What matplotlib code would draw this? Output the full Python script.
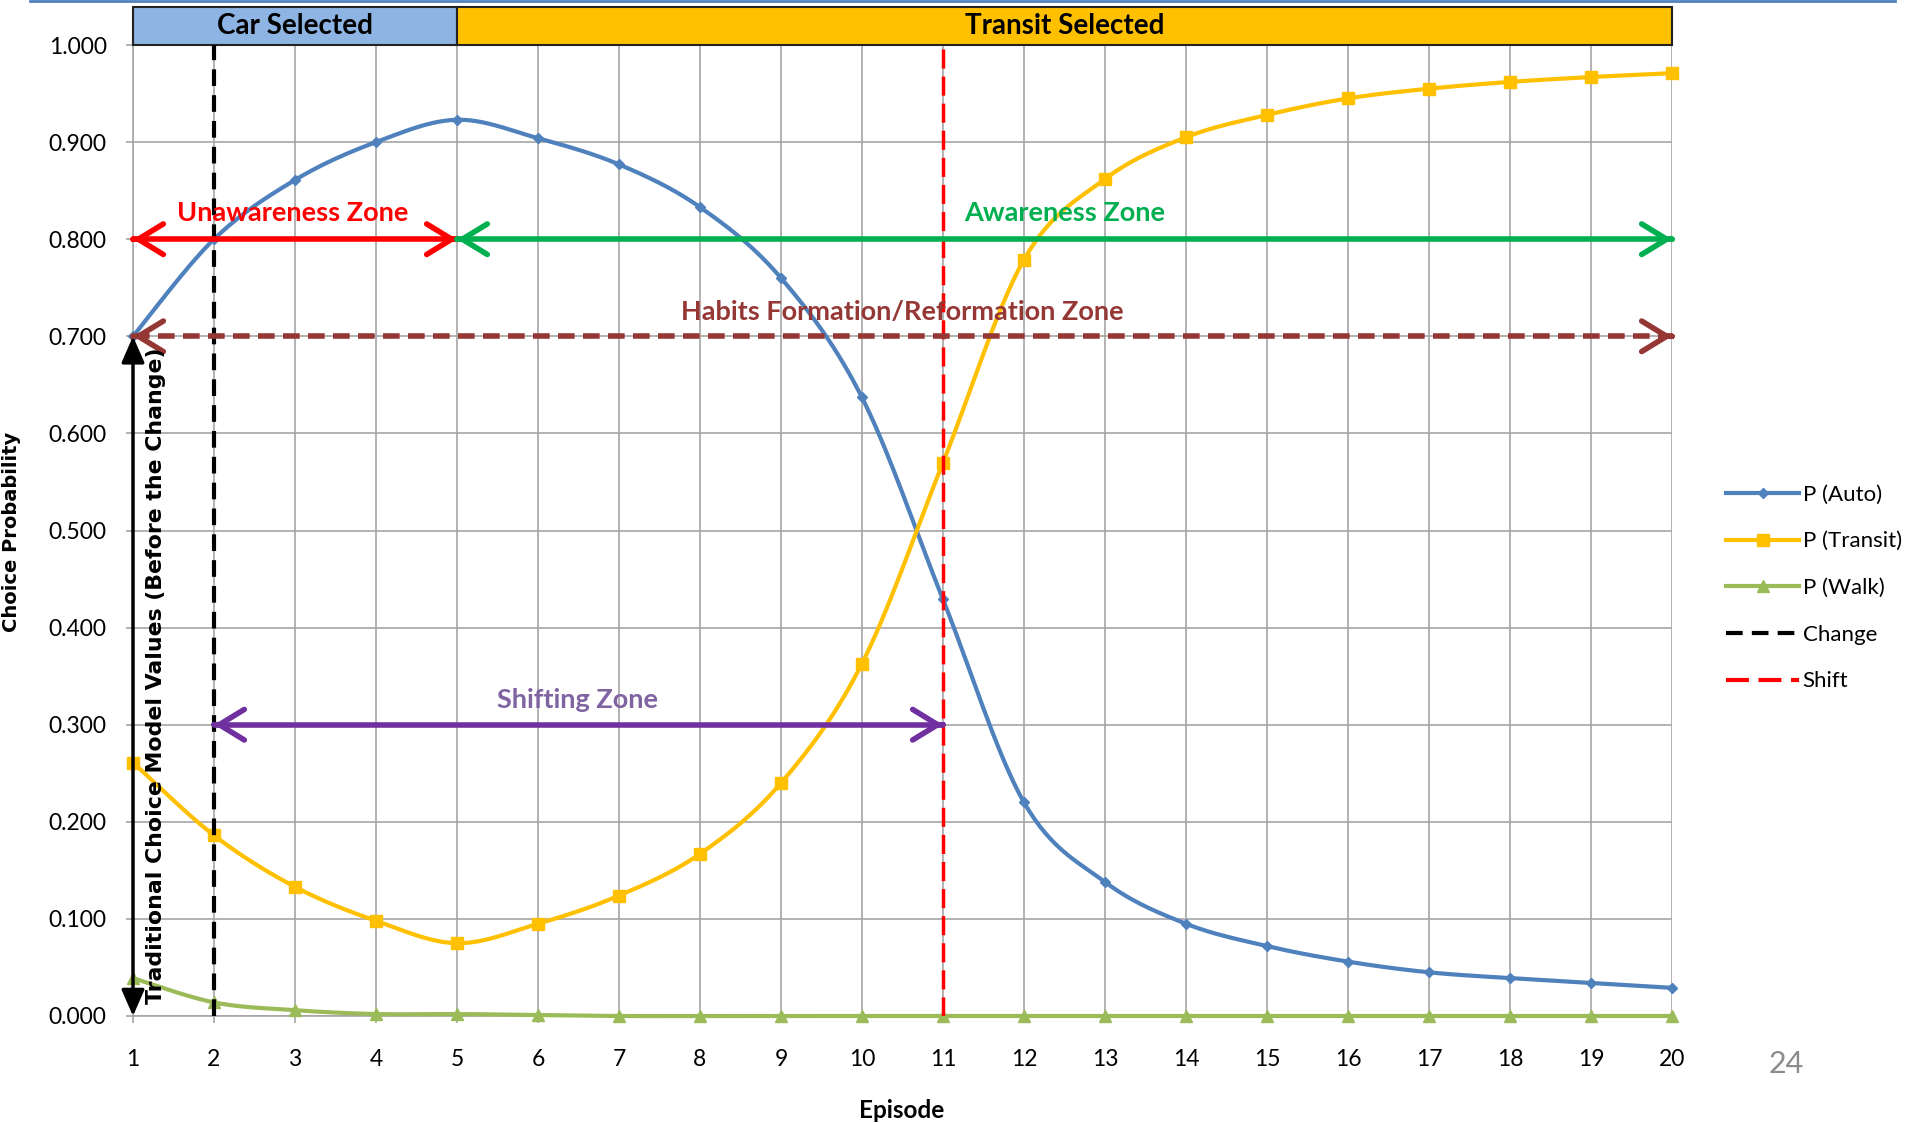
import numpy as np
import matplotlib
matplotlib.use("Agg")
import matplotlib.pyplot as plt
from matplotlib.patches import Rectangle
from matplotlib.lines import Line2D

episodes = list(range(1, 21))
p_auto = [0.700, 0.800, 0.861, 0.900, 0.923, 0.904, 0.877, 0.833, 0.760, 0.637,
          0.429, 0.220, 0.138, 0.095, 0.072, 0.056, 0.045, 0.039, 0.034, 0.029]
p_transit = [0.261, 0.186, 0.133, 0.098, 0.075, 0.095, 0.124, 0.167, 0.240, 0.363,
             0.570, 0.779, 0.862, 0.905, 0.928, 0.945, 0.955, 0.962, 0.967, 0.971]
p_walk = [0.039, 0.014, 0.006, 0.002, 0.002, 0.001, 0.000, 0.000, 0.000, 0.000,
          0.000, 0.000, 0.000, 0.000, 0.000, 0.000, 0.000, 0.000, 0.000, 0.000]
y_ticks = [0.0, 0.1, 0.2, 0.3, 0.4, 0.5, 0.6, 0.7, 0.8, 0.9, 1.0]
change_episode = 2
shift_episode = 11

BLUE = "#4F81BD"
GOLD = "#FFC000"
GREEN_S = "#9BBB59"
BAND_BLUE = "#8DB4E2"
NARROW = ["Lato", "DejaVu Sans"]
BLACK_DASH = (0, (4, 2.2))
RED_DASH = (0, (5.5, 2.3))


def smooth(x, y, n=30):
    """Catmull-Rom style smoothing (like Excel smoothed lines) for drawing only."""
    x = np.asarray(x, float)
    y = np.asarray(y, float)
    xs, ys = [], []
    for i in range(len(x) - 1):
        p0 = (x[i - 1], y[i - 1]) if i > 0 else (x[i], y[i])
        p1 = (x[i], y[i])
        p2 = (x[i + 1], y[i + 1])
        p3 = (x[i + 2], y[i + 2]) if i + 2 < len(x) else (x[i + 1], y[i + 1])
        c1 = (p1[0] + (p2[0] - p0[0]) / 6, p1[1] + (p2[1] - p0[1]) / 6)
        c2 = (p2[0] - (p3[0] - p1[0]) / 6, p2[1] - (p3[1] - p1[1]) / 6)
        t = np.linspace(0, 1, n, endpoint=(i == len(x) - 2))
        b0 = (1 - t) ** 3
        b1 = 3 * (1 - t) ** 2 * t
        b2 = 3 * (1 - t) * t ** 2
        b3 = t ** 3
        xs.append(b0 * p1[0] + b1 * c1[0] + b2 * c2[0] + b3 * p2[0])
        ys.append(b0 * p1[1] + b1 * c1[1] + b2 * c2[1] + b3 * p2[1])
    return np.concatenate(xs), np.concatenate(ys)


fig = plt.figure(figsize=(19.11, 11.23), dpi=100)
ax = fig.add_axes([133 / 1911, 1 - 1016 / 1123, (1672 - 133) / 1911, (1016 - 45) / 1123])
ax.set_xlim(1, 20)
ax.set_ylim(0, 1)

# grid
ax.set_xticks(episodes)
ax.set_yticks(y_ticks)
ax.set_yticklabels([f"{v:.3f}" for v in y_ticks], fontsize=16.5, family=NARROW)
ax.set_xticklabels([str(e) for e in episodes], fontsize=16.5, family=NARROW)
ax.grid(True, color="#A6A6A6", linewidth=1.2)
ax.tick_params(axis="both", length=5, color="#A6A6A6", width=1.2)
ax.tick_params(axis="x", pad=19)
ax.tick_params(axis="y", pad=14)
for s in ["top", "right"]:
    ax.spines[s].set_visible(False)
for s in ["left", "bottom"]:
    ax.spines[s].set_color("#A6A6A6")
    ax.spines[s].set_linewidth(1.2)
ax.set_axisbelow(True)

# series
for vals, color, marker, ms, lab in [
    (p_auto, BLUE, "D", 5, "P (Auto)"),
    (p_transit, GOLD, "s", 8, "P (Transit)"),
    (p_walk, GREEN_S, "^", 8, "P (Walk)"),
]:
    sx, sy = smooth(episodes, vals)
    ax.plot(sx, sy, color=color, lw=3, zorder=4, clip_on=False)
    ax.plot(episodes, vals, ls="none", marker=marker, ms=ms, color=color, zorder=5, clip_on=False)

# vertical change/shift lines
ax.plot([change_episode, change_episode], [0, 1], color="black", lw=3, ls=BLACK_DASH, zorder=6)
ax.plot([shift_episode, shift_episode], [0, 1], color="#FF0000", lw=2.5, ls=RED_DASH, zorder=6)


def head(x_tip, y_tip, direction, color, lw=4):
    ax.annotate("", xy=(x_tip, y_tip), xytext=(x_tip - 0.001 * direction, y_tip),
                arrowprops=dict(arrowstyle="->,head_length=0.9,head_width=0.55", lw=lw,
                                color=color, mutation_scale=20, shrinkA=0, shrinkB=0),
                zorder=7, annotation_clip=False)


def zone(x0, x1, y, color, ls="-", lw=4):
    ax.plot([x0, x1], [y, y], color=color, lw=lw, ls=ls, zorder=7, solid_capstyle="butt")
    head(x0, y, -1, color, lw)
    head(x1, y, 1, color, lw)


zone(1, 5, 0.8, "#FF0000")
zone(5, 20, 0.8, "#00B050")
zone(1, 20, 0.7, "#953735", ls=(0, (3, 1.5)))
zone(2, 11, 0.3, "#7030A0")

zkw = dict(fontsize=19.5, fontweight="bold", family=NARROW, ha="center", va="center", zorder=8)
ax.text(2.97, 0.827, "Unawareness Zone", color="#FF0000", **zkw)
ax.text(12.5, 0.827, "Awareness Zone", color="#00B050", **zkw)
ax.text(10.5, 0.725, "Habits Formation/Reformation Zone", color="#953735", **zkw)
ax.text(6.49, 0.325, "Shifting Zone", color="#8064A2", **zkw)

# traditional model vertical arrow
ax.annotate("", xy=(1, 0.0), xytext=(1, 0.7),
            arrowprops=dict(arrowstyle="<|-|>,head_length=0.8,head_width=0.35", lw=2.5,
                            color="black", mutation_scale=20, shrinkA=0, shrinkB=0),
            zorder=8, annotation_clip=False)
ax.text(1.29, 0.35, "Traditional Choice Model Values (Before the Change)", rotation=90,
        fontsize=15.8, fontweight="bold", ha="center", va="center", color="black",
        family=["DejaVu Sans"], zorder=8)

# header band
band_h = 38 / 971
ax.add_patch(Rectangle((1, 1.0), 4, band_h, transform=ax.transData, facecolor=BAND_BLUE,
                       edgecolor="#222222", lw=1.5, clip_on=False, zorder=3))
ax.add_patch(Rectangle((5, 1.0), 15, band_h, transform=ax.transData, facecolor=GOLD,
                       edgecolor="#222222", lw=1.5, clip_on=False, zorder=3))
ax.text(3, 1 + band_h / 2, "Car Selected", fontsize=20, fontweight="bold", family=NARROW,
        ha="center", va="center", zorder=4)
ax.text(12.5, 1 + band_h / 2, "Transit Selected", fontsize=20, fontweight="bold", family=NARROW,
        ha="center", va="center", zorder=4)

# axis labels
fig.text(12 / 1911, 1 - 532 / 1123, "Choice Probability", rotation=90, fontsize=14,
         fontweight="bold", family=["DejaVu Sans"], ha="center", va="center")
fig.text(902 / 1911, 1 - 1111 / 1123, "Episode", fontsize=17.5, fontweight="bold",
         family=NARROW, ha="center", va="center")

# legend
handles = [
    Line2D([], [], color=BLUE, lw=3, marker="D", ms=5),
    Line2D([], [], color=GOLD, lw=3, marker="s", ms=8),
    Line2D([], [], color=GREEN_S, lw=3, marker="^", ms=8),
    Line2D([], [], color="black", lw=3, ls=BLACK_DASH),
    Line2D([], [], color="#FF0000", lw=3, ls=RED_DASH),
]
labels = ["P (Auto)", "P (Transit)", "P (Walk)", "Change", "Shift"]
fig.legend(handles, labels, loc="center left", bbox_to_anchor=(1726 / 1911, 1 - 588 / 1123),
           frameon=False, prop={"family": NARROW, "size": 16},
           handlelength=3.3, handletextpad=0.15, labelspacing=1.2, borderpad=0,
           borderaxespad=0)

# slide decorations
fig.add_artist(Line2D([30 / 1911, 1895 / 1911], [1 - 1 / 1123, 1 - 1 / 1123], color=BLUE, lw=2))
fig.text(1786 / 1911, 1 - 1064 / 1123, "24", fontsize=22, color="#8C8C8C", family=NARROW,
         ha="center", va="center")

fig.savefig("out.png", dpi=100)
